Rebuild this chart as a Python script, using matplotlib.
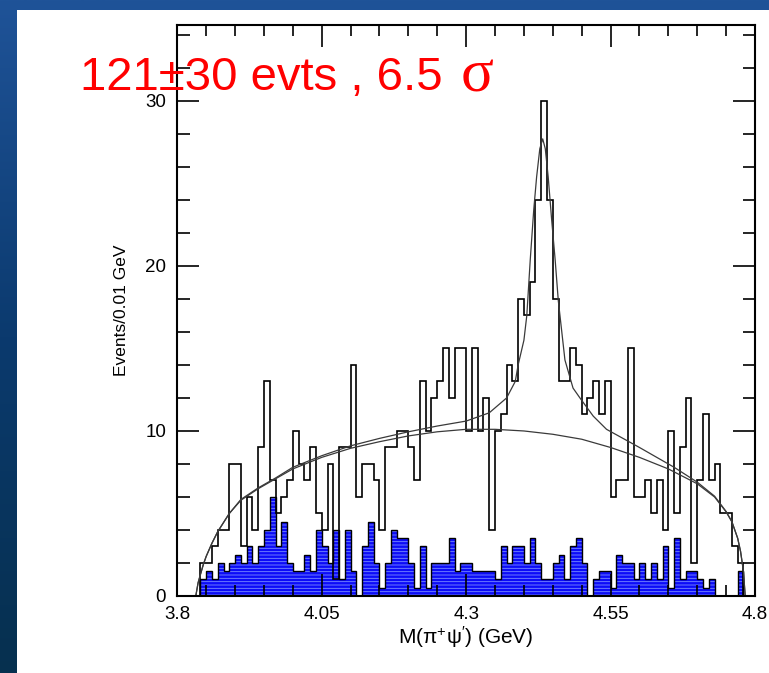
import numpy as np
import matplotlib
matplotlib.use("Agg")
import matplotlib.pyplot as plt
from matplotlib.colors import LinearSegmentedColormap
from matplotlib.patches import Rectangle
from matplotlib.ticker import MultipleLocator

plt.rcParams['font.family'] = ['Liberation Sans', 'DejaVu Sans']
plt.rcParams['mathtext.default'] = 'regular'
plt.rcParams['hatch.linewidth'] = 0.6

# 0.01 GeV bins from 3.80 to 4.80
edges = np.round(np.linspace(3.80, 4.80, 101), 3)

# data events per bin
data_counts = [
    0, 0, 0, 0, 2, 2, 3, 4, 4, 8,
    8, 3, 6, 4, 9, 13, 7, 5, 6, 7,
    10, 8, 7, 9, 5, 4, 8, 1, 9, 9,
    14, 6, 8, 8, 7, 4, 9, 9, 10, 10,
    9, 7, 13, 10, 12, 13, 15, 12, 15, 15,
    10, 15, 10, 12, 4, 10, 11, 14, 13, 18,
    17, 19, 24, 30, 24, 18, 13, 13, 15, 14,
    11, 12, 13, 11, 13, 6, 7, 7, 15, 6,
    6, 7, 5, 7, 4, 10, 5, 9, 12, 2,
    7, 11, 7, 8, 5, 5, 3, 2, 0, 0,
]

# sideband (non-resonant) background per bin
sideband = [
    0, 0, 0, 0, 1, 1.5, 1, 2, 1.5, 2,
    2.5, 2, 3, 2, 3, 4, 6, 3, 4.5, 2,
    1.5, 1.5, 2.5, 1.5, 4, 3, 2, 4, 1, 4,
    1.5, 0, 3, 4.5, 2, 0.5, 2, 4, 3.5, 3.5,
    2, 0.5, 3, 0.5, 2, 2, 2, 3.5, 1.5, 2,
    2, 1.5, 1.5, 1.5, 1.5, 1, 3, 2, 3, 3,
    2, 3.5, 2, 1, 1, 2, 2.5, 1, 3, 3.5,
    2, 0, 1, 1.5, 1.5, 0.5, 2.5, 2, 2, 1,
    2, 1, 2, 1, 3, 0.5, 3.5, 1, 1.5, 1.5,
    1, 0.5, 1, 0, 0, 0, 0, 1.5, 0, 0,
]

# fitted background shape
bkg_mass = [3.832, 3.836, 3.84, 3.845, 3.85, 3.86, 3.87, 3.89, 3.91, 3.94,
            3.97, 4.00, 4.05, 4.10, 4.15, 4.20, 4.25, 4.30, 4.35, 4.40,
            4.45, 4.50, 4.55, 4.60, 4.65, 4.70, 4.73, 4.75, 4.76, 4.77,
            4.775, 4.78, 4.783]
bkg_fit = [0, 0.8, 1.3, 1.9, 2.4, 3.2, 3.9, 5.0, 5.8, 6.5,
           7.1, 7.7, 8.4, 8.95, 9.35, 9.7, 9.95, 10.1, 10.1, 10.0,
           9.8, 9.5, 9.0, 8.4, 7.7, 6.8, 6.0, 5.1, 4.5, 3.5,
           2.7, 1.5, 0]

# total fit: background + Z(4430) signal
tot_mass = [3.832, 3.836, 3.84, 3.845, 3.85, 3.86, 3.87, 3.89, 3.91, 3.94,
            3.97, 4.00, 4.05, 4.10, 4.15, 4.20, 4.25, 4.30, 4.34, 4.37,
            4.385, 4.39, 4.40, 4.405, 4.411, 4.417, 4.422, 4.4275, 4.4325, 4.437,
            4.442, 4.448, 4.454, 4.4595, 4.471, 4.485, 4.497, 4.52, 4.543, 4.60,
            4.66, 4.70, 4.73, 4.75, 4.76, 4.77, 4.775, 4.78, 4.783]
tot_fit = [0, 0.8, 1.3, 1.9, 2.4, 3.2, 3.9, 5.0, 5.85, 6.55,
           7.15, 7.8, 8.5, 9.1, 9.55, 9.95, 10.3, 10.6, 11.1, 12.0,
           13.0, 14.0, 15.5, 17.0, 20.4, 23.4, 25.4, 27.1, 27.7, 27.1,
           25.4, 22.8, 20.4, 17.9, 14.3, 12.6, 12.0, 10.9, 10.1, 9.0,
           7.8, 6.9, 6.05, 5.12, 4.5, 3.5, 2.7, 1.5, 0]

W, H = 769, 673
fig = plt.figure(figsize=(W / 100, H / 100), dpi=100)

# slide backdrop with white panel
bg = fig.add_axes([0, 0, 1, 1], zorder=-5)
grad = np.linspace(0, 1, 256).reshape(-1, 1)
slide = LinearSegmentedColormap.from_list('slide', ['#1f5398', '#0b3a6e', '#06304f'])
bg.imshow(grad, aspect='auto', cmap=slide, extent=[0, 1, 0, 1], origin='upper')
bg.add_patch(Rectangle((17 / W, 0), 1 - 17 / W, 1 - 10 / H, transform=bg.transAxes,
                       facecolor='white', edgecolor='none'))
bg.set_xlim(0, 1)
bg.set_ylim(0, 1)
bg.axis('off')

ax = fig.add_axes([177.3 / W, 1 - 596 / H, 577.7 / W, 571 / H], zorder=2)
ax.set_facecolor('white')

ax.stairs(sideband, edges, fill=True, facecolor='#0c0cf8', edgecolor='#7a8cff',
          hatch='-----', linewidth=0)
ax.stairs(sideband, edges, color='black', linewidth=1.0)
ax.stairs(data_counts, edges, color='black', linewidth=1.2)

ax.plot(bkg_mass, bkg_fit, color='#3a3a3a', linewidth=0.9)
ax.plot(tot_mass, tot_fit, color='#3a3a3a', linewidth=0.9)

ax.set_xlim(3.8, 4.8)
ax.set_ylim(0, 34.6)
ax.set_xticks([3.8, 4.05, 4.3, 4.55, 4.8])
ax.set_xticklabels(['3.8', '4.05', '4.3', '4.55', '4.8'])
ax.xaxis.set_minor_locator(MultipleLocator(0.05))
ax.set_yticks([0, 10, 20, 30])
ax.yaxis.set_minor_locator(MultipleLocator(2))
ax.tick_params(which='both', direction='in', top=True, right=True, width=1.2,
               labelsize=13.5, colors='black')
ax.tick_params(axis='x', which='major', length=16, pad=7)
ax.tick_params(axis='x', which='minor', length=8)
ax.tick_params(axis='y', which='major', length=16, pad=8)
ax.tick_params(axis='y', which='minor', length=9)
for sp in ax.spines.values():
    sp.set_linewidth(1.5)

ax.set_xlabel(r'M($\pi^{+}\psi^{\prime}$) (GeV)', fontsize=15, labelpad=1)
ax.set_ylabel('Events/0.01 GeV', fontsize=12.5, labelpad=12)

fig.text(80 / W, 1 - 90 / H, '121\u00b130 evts , 6.5', color='#ff0000',
         fontsize=34, family=['Liberation Sans', 'DejaVu Sans'], va='baseline', zorder=5)
fig.text(461 / W, 1 - 91 / H, '\u03c3', color='#ff0000', fontsize=44,
         family=['Liberation Serif', 'DejaVu Serif'], va='baseline', zorder=5)

fig.savefig('out.png', dpi=100)
